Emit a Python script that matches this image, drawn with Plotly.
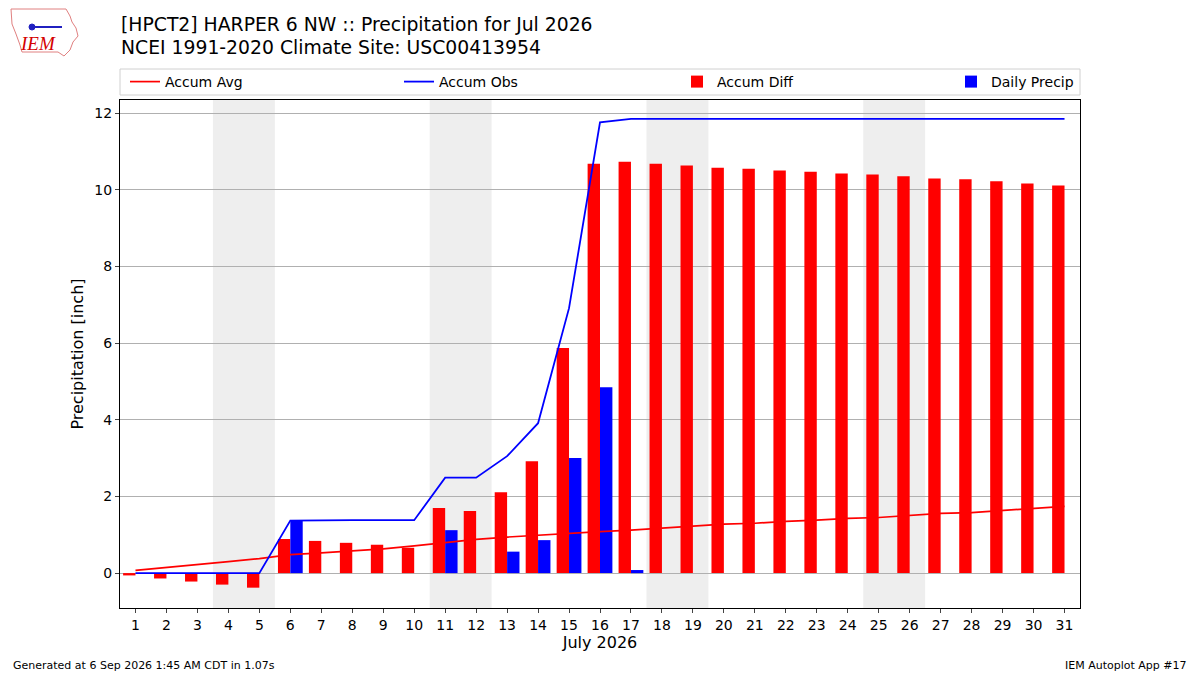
import plotly.graph_objects as go

days = list(range(1, 32))
accum_avg = [0.07, 0.14, 0.22, 0.30, 0.38, 0.48, 0.53, 0.58, 0.63, 0.71,
             0.79, 0.88, 0.94, 0.99, 1.04, 1.08, 1.12, 1.17, 1.22, 1.28,
             1.30, 1.35, 1.38, 1.43, 1.45, 1.50, 1.56, 1.58, 1.63, 1.69, 1.74]
accum_obs = [0.0, 0.0, 0.0, 0.0, 0.0, 1.37, 1.38, 1.38, 1.38, 1.38,
             2.49, 2.49, 3.05, 3.91, 6.91, 11.76, 11.85, 11.85, 11.85, 11.85,
             11.85, 11.85, 11.85, 11.85, 11.85, 11.85, 11.85, 11.85, 11.85, 11.85, 11.85]
accum_diff = [-0.06, -0.14, -0.22, -0.30, -0.38, 0.89, 0.84, 0.79, 0.74, 0.66,
              1.70, 1.62, 2.11, 2.92, 5.87, 10.68, 10.73, 10.68, 10.63, 10.57,
              10.55, 10.50, 10.47, 10.42, 10.40, 10.35, 10.29, 10.27, 10.22, 10.16, 10.11]
daily_precip = [0, 0, 0, 0, 0, 1.37, 0, 0, 0, 0,
                1.12, 0, 0.56, 0.86, 3.00, 4.85, 0.08, 0, 0, 0,
                0, 0, 0, 0, 0, 0, 0, 0, 0, 0, 0]
weekends = [(4, 5), (11, 12), (18, 19), (25, 26)]
yticks = [0, 2, 4, 6, 8, 10, 12]

FONT = "DejaVu Sans"
W, H = 1200, 675
L, R, T, B = 120, 1080, 100, 608   # plot area in pixels


def px(x):
    return (x - L) / (R - L)


def py(y):
    return (B - y) / (B - T)


fig = go.Figure()
fig.add_trace(go.Scatter(x=days, y=accum_avg, mode="lines", name="Accum Avg",
                         line=dict(color="red", width=1.7), legend="legend"))
fig.add_trace(go.Scatter(x=days, y=accum_obs, mode="lines", name="Accum Obs",
                         line=dict(color="blue", width=1.8), legend="legend2"))
fig.add_trace(go.Bar(x=days, y=accum_diff, name="Accum Diff", marker_color="red",
                     marker_line_width=0, width=0.4, offset=-0.4, legend="legend3"))
fig.add_trace(go.Bar(x=days, y=daily_precip, name="Daily Precip", marker_color="blue",
                     marker_line_width=0, width=0.4, offset=0.0, legend="legend4"))

for a, b in weekends:
    fig.add_shape(type="rect", xref="x", yref="paper", x0=a - 0.5, x1=b + 0.5,
                  y0=0, y1=1, fillcolor="#eeeeee", line_width=0, layer="below")

# legend frame
fig.add_shape(type="rect", xref="paper", yref="paper", x0=px(120), x1=px(1080),
              y0=py(95), y1=py(69), line=dict(color="#d0d0d0", width=1),
              fillcolor="white", layer="below")

# rough logo outline
logo_pts = [(11, 9), (66, 9), (70, 16), (72, 22), (76, 28), (78, 36), (73, 42),
            (70, 50), (64, 56), (58, 52), (22, 52), (20, 45), (16, 34), (12, 24), (11, 9)]
path = "M " + " L ".join(f"{px(x)},{py(y)}" for x, y in logo_pts) + " Z"
fig.add_shape(type="path", xref="paper", yref="paper", path=path,
              line=dict(color="#e08080", width=1), fillcolor="rgba(0,0,0,0)")
fig.add_shape(type="line", xref="paper", yref="paper", x0=px(30), x1=px(62),
              y0=py(27), y1=py(27), line=dict(color="#2020c0", width=2))
fig.add_shape(type="circle", xref="paper", yref="paper", x0=px(29), x1=px(35),
              y0=py(30), y1=py(24), line=dict(color="#2020c0", width=1),
              fillcolor="#2020c0")

legend_common = dict(orientation="h", xanchor="left", yanchor="middle",
                     y=py(82), bgcolor="rgba(0,0,0,0)", borderwidth=0,
                     font=dict(family=FONT, size=14), itemwidth=30)

fig.update_layout(
    width=W, height=H,
    margin=dict(l=L, r=W - R, t=T, b=H - B, autoexpand=False),
    paper_bgcolor="white", plot_bgcolor="white",
    barmode="overlay",
    font=dict(family=FONT, size=14, color="black"),
    showlegend=True,
    legend=dict(x=px(125), **legend_common),
    legend2=dict(x=px(399), **legend_common),
    legend3=dict(x=px(677), **legend_common),
    legend4=dict(x=px(951), **legend_common),
    annotations=[
        dict(text="[HPCT2] HARPER 6 NW :: Precipitation for Jul 2026",
             xref="paper", yref="paper", x=px(119), y=py(24),
             xanchor="left", yanchor="middle", align="left", showarrow=False,
             font=dict(family=FONT, size=18.8)),
        dict(text="NCEI 1991-2020 Climate Site: USC00413954",
             xref="paper", yref="paper", x=px(119), y=py(48),
             xanchor="left", yanchor="middle", align="left", showarrow=False,
             font=dict(family=FONT, size=18.8)),
        dict(text="Generated at 6 Sep 2026 1:45 AM CDT in 1.07s", xref="paper", yref="paper",
             x=px(11), y=py(665), xanchor="left", yanchor="middle", showarrow=False,
             font=dict(family=FONT, size=11)),
        dict(text="IEM Autoplot App #17", xref="paper", yref="paper",
             x=px(1189), y=py(665), xanchor="right", yanchor="middle", showarrow=False,
             font=dict(family=FONT, size=11)),
        dict(text="<i>IEM</i>", xref="paper", yref="paper", x=px(38), y=py(44),
             xanchor="center", yanchor="middle", showarrow=False,
             font=dict(family="Liberation Serif", size=19, color="#d40000")),
    ],
)

fig.update_xaxes(range=[0.5, 31.5], tickmode="array", tickvals=days,
                 ticktext=[str(d) for d in days], ticks="outside", ticklen=4,
                 showline=True, linecolor="black", linewidth=1, mirror=True,
                 showgrid=False, zeroline=False,
                 title=dict(text="July 2026", font=dict(size=16), standoff=5),
                 tickfont=dict(size=14))
fig.update_yaxes(range=[-0.91, 12.34], tickmode="array", tickvals=yticks,
                 ticks="outside", ticklen=4, showline=True, linecolor="black",
                 linewidth=1, mirror=True, showgrid=True, gridcolor="#b0b0b0",
                 gridwidth=1, zeroline=False,
                 title=dict(text="Precipitation [inch]", font=dict(size=16), standoff=6),
                 tickfont=dict(size=14))

fig.write_html("out.html", config={"displayModeBar": False},
               post_script="document.body.style.margin='0';document.body.style.padding='0';")
